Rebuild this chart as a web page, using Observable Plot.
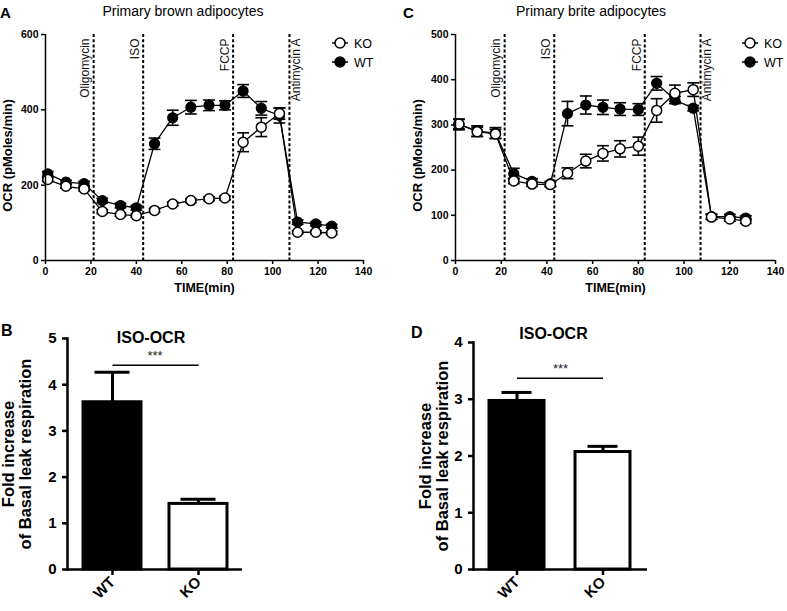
<!DOCTYPE html>
<html><head><meta charset="utf-8">
<script src="https://cdn.jsdelivr.net/npm/d3@7"></script>
<script src="https://cdn.jsdelivr.net/npm/@observablehq/plot@0.6"></script>
<style>
body{margin:0;background:#fff;font-family:"Liberation Sans",Arial,sans-serif;}
#root{position:relative;width:787px;height:611px;overflow:hidden;background:#fff;}
.panel{position:absolute;}
.letter{position:absolute;font-weight:bold;color:#000;line-height:1;}
.title{position:absolute;font-size:14px;transform:translateX(-50%);white-space:nowrap;line-height:1;color:#000;}
.legend{position:absolute;}
</style></head><body><div id="root"></div>
<script>
// ---------- data ----------
const xTicks = [0, 20, 40, 60, 80, 100, 120, 140];
const eventLabels = ["Oligomycin", "ISO", "FCCP", "Antimycin A"];

// Panel A: Primary brown adipocytes
const eventTimesA = [21.2, 43, 82.6, 107.4];
const timesA = [1, 9, 17, 25, 33, 40, 48, 56, 64, 72, 79, 87, 95, 103, 111, 119, 126];
const wtA    = [230, 208, 204, 159, 146, 140, 310, 379, 407, 412, 412, 450, 404, 385, 102, 97, 91];
const wtErrA = [6, 5, 6, 6, 6, 6, 15, 20, 18, 14, 12, 17, 18, 20, 6, 5, 5];
const koA    = [215, 197, 190, 130, 122, 119, 133, 150, 159, 164, 166, 314, 354, 390, 75, 75, 73];
const koErrA = [5, 5, 5, 5, 4, 4, 5, 5, 5, 5, 5, 25, 25, 15, 4, 4, 4];
const yTicksA = [0, 200, 400, 600];

// Panel C: Primary brite adipocytes
const eventTimesC = [21.5, 43.2, 82.8, 107.2];
const timesC = [1.5, 9.5, 17.5, 25.5, 33.5, 41.5, 49, 57, 64.5, 72, 80, 88, 96, 104, 112, 120, 127];
const wtC    = [301, 286, 282, 192, 175, 170, 325, 344, 339, 335, 334, 392, 355, 337, 97, 97, 94];
const wtErrC = [12, 12, 12, 12, 6, 5, 27, 20, 16, 14, 13, 15, 8, 6, 6, 5, 5];
const koC    = [302, 285, 280, 176, 169, 168, 193, 220, 237, 247, 253, 332, 370, 378, 96, 92, 87];
const koErrC = [10, 10, 10, 6, 5, 5, 12, 15, 17, 18, 20, 26, 18, 15, 5, 5, 5];
const yTicksC = [0, 100, 200, 300, 400, 500];

// Panels B, D: ISO-OCR
const barGroups = ["WT", "KO"];
const barB = [3.62, 1.42];
const barErrB = [0.65, 0.10];
const sigLineB = 4.42, starB = 4.62;
const yTicksB = [0, 1, 2, 3, 4, 5];
const barD = [2.97, 2.07];
const barErrD = [0.15, 0.10];
const sigLineD = 3.37, starD = 3.54;
const yTicksD = [0, 1, 2, 3, 4];

// ---------- drawing ----------
const FONT = "'Liberation Sans', Arial, sans-serif";
const root = document.getElementById("root");

function place(el, left, top) {
  el.classList.add("panel");
  el.style.left = left + "px"; el.style.top = top + "px";
  root.appendChild(el);
}
function html(cls, text, left, top, size) {
  const d = document.createElement("div");
  d.className = cls; d.textContent = text;
  d.style.left = left + "px"; d.style.top = top + "px";
  if (size) d.style.fontSize = size + "px";
  root.appendChild(d);
}

function timePlot({times, wt, wtErr, ko, koErr, yMax, yTicks, eventTimes, width, ml, mr}) {
  const rows = (vals, errs, s) => times.map((t, i) => ({t, v: vals[i], e: errs[i], s}));
  const dW = rows(wt, wtErr, "WT"), dK = rows(ko, koErr, "KO");
  const all = dW.concat(dK);
  const ev = eventTimes.map((t, i) => ({t, label: eventLabels[i]}));
  const cap = 2.6;
  return Plot.plot({
    width, height: 300, marginLeft: ml, marginRight: mr, marginTop: 34, marginBottom: 40,
    style: {fontFamily: FONT, background: "white", color: "black", overflow: "visible"},
    x: {domain: [0, 140]},
    y: {domain: [0, yMax]},
    marks: [
      Plot.ruleX(ev, {x: "t", strokeWidth: 2, strokeDasharray: "3,2.2"}),
      Plot.text(ev, {filter: d => d.label !== "Antimycin A", x: "t", text: "label", rotate: -90, frameAnchor: "top",
        textAnchor: "end", lineAnchor: "middle", dx: -8, dy: 4, fontSize: 12, fill: "#111"}),
      Plot.text(ev, {filter: d => d.label === "Antimycin A", x: "t", text: "label", rotate: -90, frameAnchor: "top",
        textAnchor: "end", lineAnchor: "middle", dx: 7, dy: 4, fontSize: 12, fill: "#111"}),
      Plot.line(dW, {x: "t", y: "v", strokeWidth: 1.3}),
      Plot.line(dK, {x: "t", y: "v", strokeWidth: 1.3}),
      Plot.ruleX(all, {x: "t", y1: d => d.v - d.e, y2: d => d.v + d.e, strokeWidth: 1.6}),
      Plot.link(all, {x1: d => d.t - cap, x2: d => d.t + cap, y1: d => d.v + d.e, y2: d => d.v + d.e, strokeWidth: 1.6}),
      Plot.link(all, {x1: d => d.t - cap, x2: d => d.t + cap, y1: d => d.v - d.e, y2: d => d.v - d.e, strokeWidth: 1.6}),
      Plot.dot(dW, {x: "t", y: "v", r: 5, fill: "black", stroke: "black", strokeWidth: 1.2}),
      Plot.dot(dK, {x: "t", y: "v", r: 5, fill: "white", stroke: "black", strokeWidth: 1.5}),
      Plot.ruleX([0], {strokeWidth: 1.5}),
      Plot.ruleY([0], {strokeWidth: 1.5}),
      Plot.axisX({ticks: xTicks, tickSize: 4, tickPadding: 3, fontSize: 10.5, fontWeight: "bold", label: null, strokeWidth: 1.5}),
      Plot.axisY({ticks: yTicks, tickSize: 4, tickPadding: 3, fontSize: 10.5, fontWeight: "bold", label: null, strokeWidth: 1.5}),
      Plot.text(["TIME(min)"], {text: d => d, frameAnchor: "bottom", lineAnchor: "middle", textAnchor: "middle",
        dy: 27, fontSize: 12.5, fontWeight: "bold"}),
      Plot.text(["OCR (pMoles/min)"], {text: d => d, frameAnchor: "left", textAnchor: "middle", lineAnchor: "middle",
        rotate: -90, dx: -38, dy: 8, fontSize: 13, fontWeight: "bold"})
    ]
  });
}

function barPlot({vals, errs, sigY, starY, yMax, yTicks, width, ml, mr, mt, pi, po, capInset, titleDx, titleDy, ytDx}) {
  const data = barGroups.map((k, i) => ({k, v: vals[i], hi: vals[i] + errs[i]}));
  return Plot.plot({
    width, height: 311, marginLeft: ml, marginRight: mr, marginTop: mt, marginBottom: 42,
    style: {fontFamily: FONT, background: "white", color: "black", overflow: "visible"},
    x: {domain: barGroups, paddingInner: pi, paddingOuter: po},
    y: {domain: [0, yMax]},
    marks: [
      Plot.ruleX(data, {x: "k", y1: "v", y2: "hi", strokeWidth: 3}),
      Plot.tickY(data, {x: "k", y: "hi", strokeWidth: 3, inset: capInset}),
      Plot.barY(data, {x: "k", y: "v", fill: d => d.k === "WT" ? "black" : "white", stroke: "black", strokeWidth: 3}),
      Plot.link([sigY], {x1: () => "WT", x2: () => "KO", y1: d => d, y2: d => d, strokeWidth: 1.6}),
      Plot.text([starY], {y: d => d, text: () => "***", fontSize: 13, fill: "#222"}),
      Plot.text(["ISO-OCR"], {text: d => d, frameAnchor: "top", lineAnchor: "middle", textAnchor: "middle",
        dx: titleDx, dy: titleDy, fontSize: 16, fontWeight: "bold"}),
      Plot.text(["Fold increase\nof Basal leak respiration"], {text: d => d, frameAnchor: "left", textAnchor: "middle",
        lineAnchor: "middle", rotate: -90, dx: ytDx, lineHeight: 1.02, fontSize: 16.5, fontWeight: "bold"}),
      Plot.ruleY([0], {strokeWidth: 2.5}),
      Plot.frame({anchor: "left", strokeWidth: 2.5}),
      Plot.axisX({tickSize: 6, tickPadding: 4, tickRotate: -45, fontSize: 15, fontWeight: "bold", label: null, strokeWidth: 2.5}),
      Plot.axisY({ticks: yTicks, tickFormat: d => String(d), tickSize: 5, tickPadding: 6, fontSize: 15, fontWeight: "bold",
        label: null, strokeWidth: 2.5})
    ]
  });
}

place(timePlot({times: timesA, wt: wtA, wtErr: wtErrA, ko: koA, koErr: koErrA, yMax: 600, yTicks: yTicksA,
  eventTimes: eventTimesA, width: 390, ml: 45, mr: 27}), 0, 0);
place(timePlot({times: timesC, wt: wtC, wtErr: wtErrC, ko: koC, koErr: koErrC, yMax: 500, yTicks: yTicksC,
  eventTimes: eventTimesC, width: 397, ml: 65, mr: 12}), 390, 0);
place(barPlot({vals: barB, errs: barErrB, sigY: sigLineB, starY: starB, yMax: 5, yTicks: yTicksB,
  width: 390, ml: 67, mr: 148, mt: 38, pi: 0.33, po: 0.175, capInset: 11.5, titleDx: -4, titleDy: -1, ytDx: -50}), 0, 300);
place(barPlot({vals: barD, errs: barErrD, sigY: sigLineD, starY: starD, yMax: 4, yTicks: yTicksD,
  width: 397, ml: 83, mr: 140, mt: 42, pi: 0.36, po: 0.19, capInset: 12.5, titleDx: -7, titleDy: -9, ytDx: -39}), 390, 300);

// letters and titles
html("letter", "A", 0, 5, 15);
html("letter", "C", 403, 5, 15);
html("letter", "B", 1, 323, 16);
html("letter", "D", 411, 325, 16);
html("title", "Primary brown adipocytes", 183, 4);
html("title", "Primary brite adipocytes", 591, 4);

// legends
function legend(left, top) {
  const svg = d3.create("svg").attr("width", 60).attr("height", 36).style("overflow", "visible");
  [["KO", "white"], ["WT", "black"]].forEach(([name, fill], i) => {
    const y = 8 + i * 19;
    svg.append("line").attr("x1", 0).attr("x2", 16).attr("y1", y).attr("y2", y).attr("stroke", "black").attr("stroke-width", 1.5);
    svg.append("circle").attr("cx", 8).attr("cy", y).attr("r", 5).attr("fill", fill).attr("stroke", "black").attr("stroke-width", 1.5);
    svg.append("text").attr("x", 22).attr("y", y).attr("dy", "0.36em").attr("font-size", 12.5)
      .attr("font-family", FONT).text(name);
  });
  const d = svg.node();
  d.classList.add("legend");
  d.style.position = "absolute"; d.style.left = left + "px"; d.style.top = top + "px";
  root.appendChild(d);
}
legend(332, 35);
legend(742, 35);
</script></body></html>
